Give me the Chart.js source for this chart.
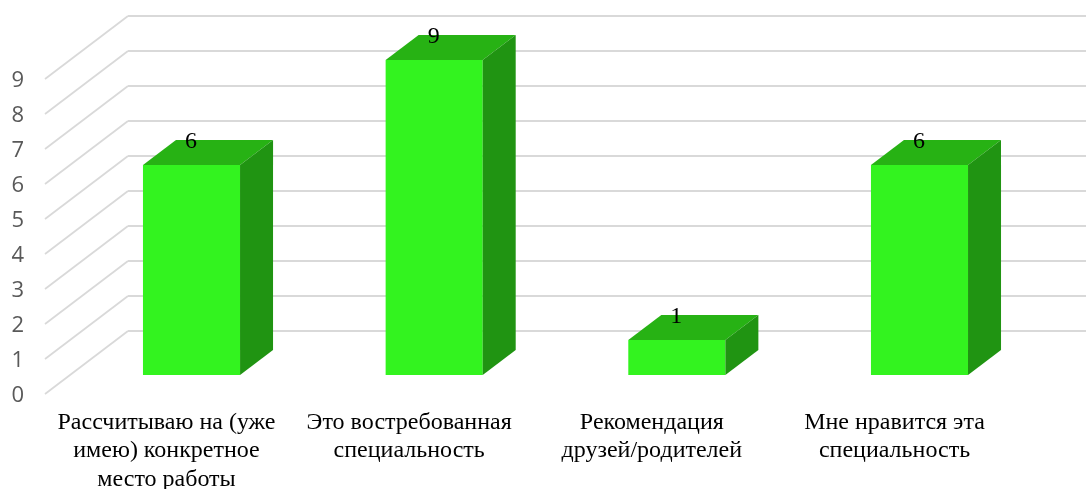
<!DOCTYPE html>
<html>
<head>
<meta charset="utf-8">
<style>
  html, body { margin: 0; padding: 0; background: #fff; }
  canvas { display: block; }
</style>
<script src="https://cdn.jsdelivr.net/npm/chart.js@4"></script>
</head>
<body>
<canvas id="myChart" width="1086" height="489"></canvas>
<script>
var categories = [
    ['Рассчитываю на (уже', 'имею) конкретное', 'место работы'],
    ['Это востребованная', 'специальность'],
    ['Рекомендация', 'друзей/родителей'],
    ['Мне нравится эта', 'специальность']
];
var answers = [6, 9, 1, 6];

var gridColor = '#d9d9d9';
var frontColor = '#33f31f';
var topColor = '#27b214';
var sideColor = '#209412';

// fake 3D: floor and wall offsets relative to the bar plane
var wallDy = 44, floorDy = 19;
var wallX = 128, floorX = 45;
var barDx = 33, barDy = 25;

var fake3d = {
    id: 'fake3d',
    beforeDatasetsDraw: function (chart) {
        var ctx = chart.ctx;
        var yScale = chart.scales.y;
        ctx.save();
        ctx.strokeStyle = gridColor;
        yScale.ticks.forEach(function (t) {
            var y = yScale.getPixelForValue(t.value);
            ctx.lineWidth = 1.8;
            ctx.beginPath();
            ctx.moveTo(floorX, y + floorDy);
            ctx.lineTo(wallX, y - wallDy);
            ctx.stroke();
            ctx.lineWidth = 2.2;
            ctx.beginPath();
            ctx.moveTo(wallX, y - wallDy);
            ctx.lineTo(chart.width, y - wallDy);
            ctx.stroke();
        });
        ctx.restore();
    },
    afterDatasetsDraw: function (chart) {
        var ctx = chart.ctx;
        var bars = chart.getDatasetMeta(0).data;
        ctx.save();
        bars.forEach(function (bar, i) {
            var l = bar.x - bar.width / 2, r = bar.x + bar.width / 2;
            // top
            ctx.fillStyle = topColor;
            ctx.beginPath();
            ctx.moveTo(l, bar.y);
            ctx.lineTo(l + barDx, bar.y - barDy);
            ctx.lineTo(r + barDx, bar.y - barDy);
            ctx.lineTo(r, bar.y);
            ctx.closePath();
            ctx.fill();
            // side
            ctx.fillStyle = sideColor;
            ctx.beginPath();
            ctx.moveTo(r, bar.y);
            ctx.lineTo(r + barDx, bar.y - barDy);
            ctx.lineTo(r + barDx, bar.base - barDy);
            ctx.lineTo(r, bar.base);
            ctx.closePath();
            ctx.fill();
            // value label
            ctx.fillStyle = '#000';
            ctx.font = '24px "Liberation Serif"';
            ctx.textAlign = 'center';
            ctx.textBaseline = 'middle';
            ctx.fillText(answers[i], bar.x - 0.5, bar.y - 23);
        });
        ctx.restore();
    }
};

new Chart(document.getElementById('myChart').getContext('2d'), {
    type: 'bar',
    data: {
        labels: categories,
        datasets: [{
            data: answers,
            backgroundColor: frontColor,
            borderWidth: 0,
            categoryPercentage: 0.8,
            barPercentage: 0.5
        }]
    },
    options: {
        responsive: false,
        animation: false,
        layout: { padding: { left: 0, right: 45.17, top: 60, bottom: 0 } },
        plugins: {
            legend: { display: false },
            tooltip: { enabled: false }
        },
        scales: {
            x: {
                grid: { display: false },
                border: { display: false },
                afterFit: function (s) { s.height = 114; },
                ticks: {
                    maxRotation: 0,
                    autoSkip: false,
                    padding: 25,
                    labelOffset: -25,
                    color: '#000',
                    font: { family: 'Liberation Serif', size: 24, lineHeight: 1.19 }
                }
            },
            y: {
                min: 0,
                max: 9,
                grid: { display: false },
                border: { display: false },
                afterFit: function (s) { s.width = 70.17; },
                ticks: {
                    stepSize: 1,
                    labelOffset: 21,
                    padding: 38,
                    color: '#595959',
                    font: { family: 'Open Sans', size: 22 }
                }
            }
        }
    },
    plugins: [fake3d]
});
</script>
</body>
</html>
